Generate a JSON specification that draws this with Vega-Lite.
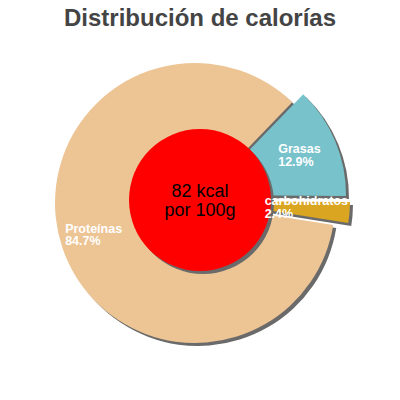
{
  "$schema": "https://vega.github.io/schema/vega-lite/v6.json",
  "width": 400,
  "height": 400,
  "padding": 0,
  "autosize": "none",
  "config": {"view": {"stroke": null}, "font": "Liberation Sans"},
  "title": {
    "text": "Distribución de calorías",
    "fontSize": 24,
    "fontWeight": "bold",
    "color": "#444444",
    "font": "Liberation Sans",
    "anchor": "middle",
    "frame": "group",
    "baseline": "alphabetic",
    "offset": -50
  },
  "data": {
    "values": [
      {"nutriente": "Grasas", "pct": 12.9, "orden": 1},
      {"nutriente": "carbohidratos", "pct": 2.4, "orden": 2},
      {"nutriente": "Proteínas", "pct": 84.7, "orden": 3}
    ]
  },
  "transform": [
    {"calculate": "[datum.nutriente, format(datum.pct, '.1f') + '%']", "as": "etiqueta"}
  ],
  "encoding": {
    "theta": {
      "field": "pct",
      "type": "quantitative",
      "stack": true,
      "scale": {"domain": [0, 100], "range": [0.768, 7.051]}
    },
    "order": {"field": "orden", "type": "quantitative"},
    "detail": {"field": "nutriente", "type": "nominal"}
  },
  "layer": [
    {
      "mark": {"type": "arc", "outerRadius": 140, "fill": "#6a6a6a", "x": {"expr": "width/2-2"}, "y": {"expr": "height/2+6"}},
      "encoding": {"opacity": {"condition": {"test": "datum.nutriente == 'Proteínas'", "value": 1}, "value": 0}}
    },
    {
      "mark": {"type": "arc", "outerRadius": 140, "fill": "#6a6a6a", "x": {"expr": "width/2+9"}, "y": {"expr": "height/2-2"}},
      "encoding": {"opacity": {"condition": {"test": "datum.nutriente == 'Grasas'", "value": 1}, "value": 0}}
    },
    {
      "mark": {"type": "arc", "outerRadius": 140, "fill": "#6a6a6a", "x": {"expr": "width/2+13"}, "y": {"expr": "height/2+4"}},
      "encoding": {"opacity": {"condition": {"test": "datum.nutriente == 'carbohidratos'", "value": 1}, "value": 0}}
    },
    {
      "mark": {"type": "arc", "outerRadius": 140, "fill": "#edc494", "x": {"expr": "width/2-5"}, "y": {"expr": "height/2+3"}},
      "encoding": {"opacity": {"condition": {"test": "datum.nutriente == 'Proteínas'", "value": 1}, "value": 0}}
    },
    {
      "mark": {"type": "arc", "outerRadius": 140, "fill": "#78c2cb", "x": {"expr": "width/2+6"}, "y": {"expr": "height/2-5"}},
      "encoding": {"opacity": {"condition": {"test": "datum.nutriente == 'Grasas'", "value": 1}, "value": 0}}
    },
    {
      "mark": {"type": "arc", "outerRadius": 140, "fill": "#daa520", "x": {"expr": "width/2+10"}, "y": {"expr": "height/2+1"}},
      "encoding": {"opacity": {"condition": {"test": "datum.nutriente == 'carbohidratos'", "value": 1}, "value": 0}}
    },
    {
      "mark": {"type": "text", "radius": 100, "color": "white", "fontSize": 12.5, "fontWeight": "bold", "lineHeight": 12.5, "align": "left", "baseline": "alphabetic", "dx": -35, "dy": -2, "x": {"expr": "width/2-5"}, "y": {"expr": "height/2+3"}},
      "encoding": {
        "text": {"field": "etiqueta"},
        "opacity": {"condition": {"test": "datum.nutriente == 'Proteínas'", "value": 1}, "value": 0}
      }
    },
    {
      "mark": {"type": "text", "radius": 100, "color": "white", "fontSize": 12.5, "fontWeight": "bold", "lineHeight": 12.5, "align": "left", "baseline": "alphabetic", "dx": -20, "dy": -3, "x": {"expr": "width/2+6"}, "y": {"expr": "height/2-5"}},
      "encoding": {
        "text": {"field": "etiqueta"},
        "opacity": {"condition": {"test": "datum.nutriente == 'Grasas'", "value": 1}, "value": 0}
      }
    },
    {
      "data": {"values": [{"kcal": 82}]},
      "mark": {"type": "point", "shape": "circle", "filled": true, "size": 20164, "color": "#6a6a6a", "opacity": 1, "x": {"expr": "width/2+3"}, "y": {"expr": "height/2+3"}},
      "encoding": {"theta": null, "order": null, "detail": null}
    },
    {
      "data": {"values": [{"kcal": 82}]},
      "mark": {"type": "point", "shape": "circle", "filled": true, "size": 20164, "color": "#ff0000", "opacity": 1},
      "encoding": {"theta": null, "order": null, "detail": null}
    },
    {
      "mark": {"type": "text", "radius": 100, "color": "white", "fontSize": 12.5, "fontWeight": "bold", "lineHeight": 12.5, "align": "left", "baseline": "alphabetic", "dx": -45, "dy": -4, "x": {"expr": "width/2+10"}, "y": {"expr": "height/2+1"}},
      "encoding": {
        "text": {"field": "etiqueta"},
        "opacity": {"condition": {"test": "datum.nutriente == 'carbohidratos'", "value": 1}, "value": 0}
      }
    },
    {
      "data": {"values": [{"kcal": 82}]},
      "mark": {"type": "text", "color": "black", "fontSize": 18, "lineHeight": 19, "baseline": "alphabetic", "dy": -3},
      "encoding": {"theta": null, "order": null, "detail": null, "text": {"value": ["82 kcal", "por 100g"]}}
    }
  ]
}
